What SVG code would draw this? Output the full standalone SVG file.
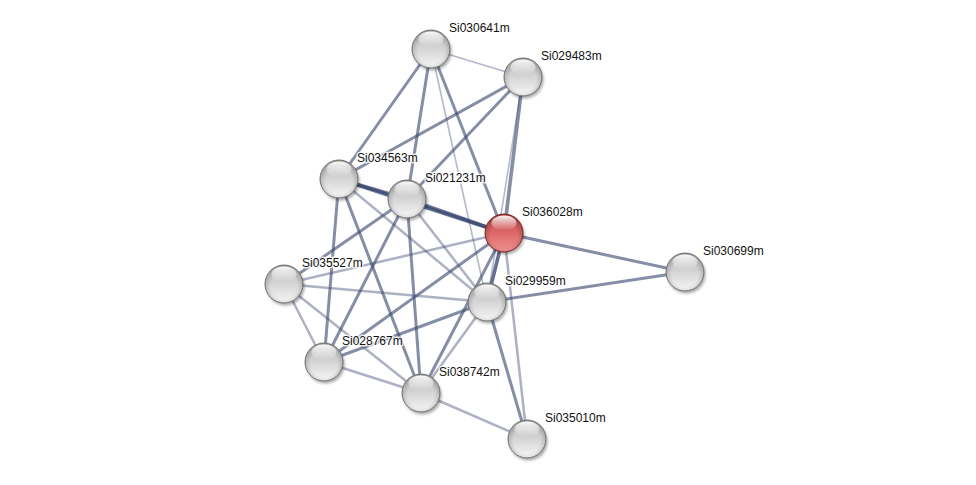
<svg xmlns="http://www.w3.org/2000/svg" width="976" height="485" viewBox="0 0 976 485">
<defs>
<linearGradient id="gGrey" x1="0" y1="0" x2="0" y2="1">
<stop offset="0" stop-color="#bcbcbc"/>
<stop offset="0.45" stop-color="#d2d2d2"/>
<stop offset="1" stop-color="#f6f6f6"/>
</linearGradient>
<linearGradient id="gRed" x1="0" y1="0" x2="0" y2="1">
<stop offset="0" stop-color="#c04444"/>
<stop offset="0.45" stop-color="#da6464"/>
<stop offset="1" stop-color="#f39292"/>
</linearGradient>
<radialGradient id="gRim" cx="0.5" cy="0.55" r="0.5">
<stop offset="0.7" stop-color="#000" stop-opacity="0"/>
<stop offset="1" stop-color="#000" stop-opacity="0.16"/>
</radialGradient>
<linearGradient id="gHi" x1="0" y1="0" x2="0" y2="1">
<stop offset="0" stop-color="#fff" stop-opacity="0.95"/>
<stop offset="1" stop-color="#fff" stop-opacity="0"/>
</linearGradient>
<filter id="sh" x="-50%" y="-50%" width="200%" height="200%">
<feGaussianBlur stdDeviation="1.8"/>
</filter>
<g id="sphere">
<circle cx="1.5" cy="2.5" r="19" fill="#000" opacity="0.35" filter="url(#sh)"/>
<circle r="19" fill="url(#gGrey)" stroke="#7a7a7a" stroke-width="1"/>
<circle r="19" fill="url(#gRim)"/>
<ellipse cx="0" cy="-10" rx="12.5" ry="7.5" fill="url(#gHi)"/>
</g>
<g id="sphereRed">
<circle cx="1.5" cy="2.5" r="19" fill="#000" opacity="0.35" filter="url(#sh)"/>
<circle r="19" fill="url(#gRed)" stroke="#842626" stroke-width="1"/>
<circle r="19" fill="url(#gRim)"/>
<ellipse cx="0" cy="-10" rx="12.5" ry="7.5" fill="url(#gHi)"/>
</g>
</defs>
<style>
line { stroke: #3b4870; stroke-linecap: butt; }
.e1 { stroke-width: 3.6; stroke-opacity: 0.78; }
.e2 { stroke-width: 3; stroke-opacity: 0.62; }
.e3 { stroke-width: 2.5; stroke-opacity: 0.42; }
.e4 { stroke-width: 1.6; stroke-opacity: 0.38; }
text { font-family: "Liberation Sans", Arial, sans-serif; font-size: 12px; fill: #111; stroke: #fff; stroke-width: 3; stroke-opacity: 0.8; paint-order: stroke; stroke-linejoin: round; }
</style>
<rect width="976" height="485" fill="#fff"/>
<g id="edges">
<line class="e4" x1="431" y1="49" x2="523" y2="77"/>
<line class="e2" x1="431" y1="49" x2="339" y2="179"/>
<line class="e2" x1="431" y1="49" x2="407" y2="199"/>
<line class="e2" x1="431" y1="49" x2="504" y2="233"/>
<line class="e4" x1="431" y1="49" x2="487" y2="302"/>
<line class="e2" x1="523" y1="77" x2="339" y2="179"/>
<line class="e2" x1="523" y1="77" x2="407" y2="199"/>
<line class="e2" style="stroke-width:3.6" x1="523" y1="77" x2="504" y2="233"/>
<line class="e4" x1="523" y1="77" x2="487" y2="302"/>
<line class="e1" x1="339" y1="179" x2="407" y2="199"/>
<line class="e1" x1="339" y1="179" x2="504" y2="233"/>
<line class="e1" x1="407" y1="199" x2="504" y2="233"/>
<line class="e2" x1="339" y1="179" x2="324" y2="362"/>
<line class="e2" x1="339" y1="179" x2="421" y2="393"/>
<line class="e3" x1="339" y1="179" x2="487" y2="302"/>
<line class="e2" x1="407" y1="199" x2="284" y2="284"/>
<line class="e2" x1="407" y1="199" x2="324" y2="362"/>
<line class="e2" x1="407" y1="199" x2="421" y2="393"/>
<line class="e3" x1="407" y1="199" x2="487" y2="302"/>
<line class="e2" x1="504" y1="233" x2="685" y2="272"/>
<line class="e3" x1="504" y1="233" x2="284" y2="284"/>
<line class="e2" x1="504" y1="233" x2="324" y2="362"/>
<line class="e1" x1="504" y1="233" x2="487" y2="302"/>
<line class="e2" x1="504" y1="233" x2="421" y2="393"/>
<line class="e3" x1="504" y1="233" x2="527" y2="439"/>
<line class="e2" x1="487" y1="302" x2="685" y2="272"/>
<line class="e2" x1="487" y1="302" x2="324" y2="362"/>
<line class="e3" x1="487" y1="302" x2="421" y2="393"/>
<line class="e2" x1="487" y1="302" x2="527" y2="439"/>
<line class="e3" x1="487" y1="302" x2="284" y2="284"/>
<line class="e3" x1="284" y1="284" x2="324" y2="362"/>
<line class="e3" x1="284" y1="284" x2="421" y2="393"/>
<line class="e3" x1="324" y1="362" x2="421" y2="393"/>
<line class="e3" x1="421" y1="393" x2="527" y2="439"/>
</g>
<g id="Si030641m"><use href="#sphere" x="431" y="49"/><text x="449" y="31.5">Si030641m</text></g>
<g id="Si029483m"><use href="#sphere" x="523" y="77"/><text x="541" y="59.5">Si029483m</text></g>
<g id="Si034563m"><use href="#sphere" x="339" y="179"/><text x="357" y="161.5">Si034563m</text></g>
<g id="Si021231m"><use href="#sphere" x="407" y="199"/><text x="425" y="181.5">Si021231m</text></g>
<g id="Si036028m"><use href="#sphereRed" x="504" y="233"/><text x="522" y="215.5">Si036028m</text></g>
<g id="Si030699m"><use href="#sphere" x="685" y="272"/><text x="703" y="254.5">Si030699m</text></g>
<g id="Si035527m"><use href="#sphere" x="284" y="284"/><text x="302" y="266.5">Si035527m</text></g>
<g id="Si029959m"><use href="#sphere" x="487" y="302"/><text x="505" y="284.5">Si029959m</text></g>
<g id="Si028767m"><use href="#sphere" x="324" y="362"/><text x="342" y="344.5">Si028767m</text></g>
<g id="Si038742m"><use href="#sphere" x="421" y="393"/><text x="439" y="375.5">Si038742m</text></g>
<g id="Si035010m"><use href="#sphere" x="527" y="439"/><text x="545" y="421.5">Si035010m</text></g>
</svg>
